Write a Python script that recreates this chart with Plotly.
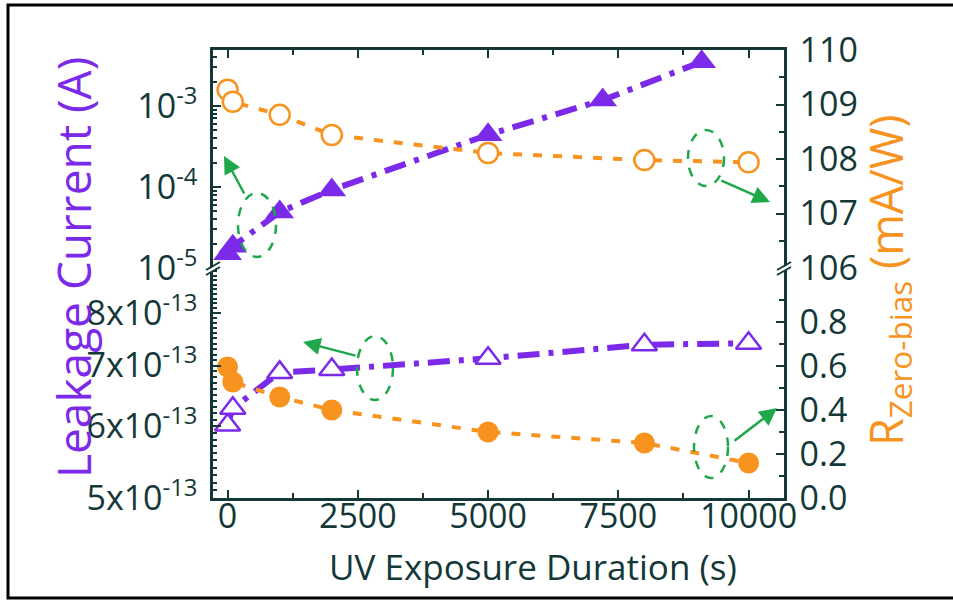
import plotly.graph_objects as go

# ---------------- data ----------------
# top panel (left log axis: leakage current, right axis: R in mA/W)
t_top_leak = [0, 100, 1000, 2000, 5000, 7200, 9100]
leak_top = [1.5e-5, 1.85e-5, 4.9e-5, 9.2e-5, 4.4e-4, 1.18e-3, 3.5e-3]

t_top_r = [0, 100, 1000, 2000, 5000, 8000, 10000]
r_top = [109.27, 109.05, 108.81, 108.44, 108.11, 107.98, 107.94]

# bottom panel (left log axis: leakage current, right axis: R)
t_bot_leak = [0, 100, 1000, 2000, 5000, 8000, 10000]
leak_bot = [6.02e-13, 6.28e-13, 6.88e-13, 6.93e-13, 7.13e-13, 7.38e-13, 7.41e-13]

t_bot_r = [0, 100, 1000, 2000, 5000, 8000, 10000]
r_bot = [0.595, 0.527, 0.459, 0.40, 0.30, 0.25, 0.159]

x_ticks = [0, 2500, 5000, 7500, 10000]
x_text = ["0", "2500", "5000", "7500", "10000"]
top_left_ticks = [1e-5, 1e-4, 1e-3]
top_left_text = ["10<sup>-5</sup>", "10<sup>-4</sup>", "10<sup>-3</sup>"]
bot_left_ticks = [5e-13, 6e-13, 7e-13, 8e-13]
bot_left_text = ["5x10<sup>-13</sup>", "6x10<sup>-13</sup>", "7x10<sup>-13</sup>", "8x10<sup>-13</sup>"]
top_right_ticks = [106, 107, 108, 109, 110]
bot_right_ticks = [0.0, 0.2, 0.4, 0.6, 0.8]
bot_right_text = ["0.0", "0.2", "0.4", "0.6", "0.8"]

# ---------------- style ----------------
PURPLE = "#7B2AEA"
ORANGE = "#F7931E"
GREEN = "#1FA84A"
DARK = "#143838"
FONT = "Open Sans"

W, H = 953, 600
L, R, T, B = 213, 784, 50, 498
BREAK = 268


def px(x):
    return (x - L) / (R - L)


def py(y):
    return (B - y) / (B - T)


split = py(BREAK)

fig = go.Figure()

# bottom panel traces
fig.add_trace(go.Scatter(
    x=t_bot_r, y=r_bot, xaxis="x", yaxis="y2", mode="lines+markers",
    line=dict(color=ORANGE, width=4, dash="9px,11px"),
    marker=dict(symbol="circle", size=21, color=ORANGE),
    showlegend=False))
fig.add_trace(go.Scatter(
    x=t_bot_leak, y=leak_bot, xaxis="x", yaxis="y", mode="lines+markers",
    line=dict(color=PURPLE, width=6, dash="22px,9px,5px,9px"),
    marker=dict(symbol="triangle-up", size=22, color="white",
                line=dict(color=PURPLE, width=2.5)),
    showlegend=False))

# top panel traces
fig.add_trace(go.Scatter(
    x=t_top_r, y=r_top, xaxis="x2", yaxis="y4", mode="lines+markers",
    line=dict(color=ORANGE, width=4, dash="9px,11px"),
    marker=dict(symbol="circle", size=20, color="white",
                line=dict(color=ORANGE, width=2.5)),
    showlegend=False))
fig.add_trace(go.Scatter(
    x=t_top_leak, y=leak_top, xaxis="x2", yaxis="y3", mode="lines+markers",
    line=dict(color=PURPLE, width=6, dash="22px,9px,5px,9px"),
    marker=dict(symbol="triangle-up", size=25, color=PURPLE),
    showlegend=False))

axis_common = dict(showline=True, linewidth=2.5, linecolor=DARK, ticks="inside",
                   ticklen=8, tickwidth=2, tickcolor=DARK, showgrid=False,
                   zeroline=False, tickfont=dict(family=FONT, size=34, color=DARK))

xr = [-280, 10680]
x_minor = dict(tickvals=[1250, 3750, 6250, 8750], ticks="inside", ticklen=5,
               tickwidth=1.5, tickcolor=DARK)

top_left_minor = [k * 10 ** n for n in (-5, -4, -3) for k in range(2, 10) if k * 10 ** n < 4.8e-3]
bot_left_minor = [round(v, 1) * 1e-13 for v in [5 + 0.1 * i for i in range(1, 40)]
                  if abs(v - round(v)) > 1e-6]

fig.update_layout(
    width=W, height=H,
    margin=dict(l=L, r=W - R, t=T, b=H - B),
    paper_bgcolor="white", plot_bgcolor="white",
    font=dict(family=FONT, color=DARK),
    xaxis=dict(domain=[0, 1], anchor="y", range=xr, tickvals=x_ticks, ticktext=x_text,
               minor=x_minor, ticklabelstandoff=-14, **axis_common),
    xaxis2=dict(domain=[0, 1], anchor="y3", side="top", range=xr, tickvals=x_ticks,
                showticklabels=False, minor=x_minor, matches="x", **axis_common),
    yaxis=dict(domain=[0, split], anchor="x", type="log",
               range=[-12.30103, -12.0472], tickvals=bot_left_ticks, ticktext=bot_left_text,
               minor=dict(tickvals=bot_left_minor, ticks="inside", ticklen=4,
                          tickwidth=1.5, tickcolor=DARK),
               ticklabelstandoff=6, **axis_common),
    yaxis2=dict(domain=[0, split], anchor="x", overlaying="y", side="right",
                range=[0, 1.045], tickvals=bot_right_ticks, ticktext=bot_right_text,
                minor=dict(tickvals=[0.1, 0.3, 0.5, 0.7, 0.9], ticks="inside", ticklen=5,
                           tickwidth=1.5, tickcolor=DARK),
                ticklabelstandoff=6, **axis_common),
    yaxis3=dict(domain=[split, 1], anchor="x2", type="log",
                range=[-5, -2.31], tickvals=top_left_ticks, ticktext=top_left_text,
                minor=dict(tickvals=top_left_minor, ticks="inside", ticklen=4,
                           tickwidth=1.5, tickcolor=DARK),
                ticklabelstandoff=6, **axis_common),
    yaxis4=dict(domain=[split, 1], anchor="x2", overlaying="y3", side="right",
                range=[106, 110], tickvals=top_right_ticks,
                minor=dict(tickvals=[106.5, 107.5, 108.5, 109.5], ticks="inside", ticklen=5,
                           tickwidth=1.5, tickcolor=DARK),
                ticklabelstandoff=6, **axis_common),
)

shapes = []
annotations = []

# outer frame
shapes.append(dict(type="rect", xref="paper", yref="paper",
                   x0=px(8), x1=px(975), y0=py(598), y1=py(5),
                   line=dict(color="black", width=3), layer="below"))

# axis break marks
for ax_x in (L, R):
    shapes.append(dict(type="path", xref="paper", yref="paper",
                       path=f"M {px(ax_x-7)},{py(BREAK+3)} L {px(ax_x+7)},{py(BREAK-5)} "
                            f"L {px(ax_x+7)},{py(BREAK-1)} L {px(ax_x-7)},{py(BREAK+7)} Z",
                       fillcolor="white", line=dict(width=0), layer="above"))
    for off in (0, 5):
        shapes.append(dict(type="line", xref="paper", yref="paper",
                           x0=px(ax_x - 7), y0=py(BREAK + 2 + off),
                           x1=px(ax_x + 7), y1=py(BREAK - 6 + off),
                           line=dict(color=DARK, width=2), layer="above"))

# green dashed ellipses (pixel centre, radii)
ellipses = [(257, 225, 19, 32), (706, 158, 18, 28), (375, 368, 18, 32), (711, 447, 17, 31)]
for cx, cy, rx, ry in ellipses:
    shapes.append(dict(type="circle", xref="paper", yref="paper",
                       x0=px(cx - rx), x1=px(cx + rx), y0=py(cy + ry), y1=py(cy - ry),
                       line=dict(color=GREEN, width=2.5, dash="9px,9px")))

# green arrows: (tail px, head px)
arrows = [((245, 195), (224, 156)), ((720, 180), (770, 202)),
          ((357, 356), (303, 342)), ((733, 442), (777, 408))]
for (tx, ty), (hx, hy) in arrows:
    annotations.append(dict(xref="paper", yref="paper", x=px(hx), y=py(hy),
                            ax=tx - hx, ay=ty - hy, text="", showarrow=True,
                            arrowhead=2, arrowsize=1.4, arrowwidth=2.5, arrowcolor=GREEN,
                            standoff=0, startstandoff=0))

# axis titles
annotations.append(dict(xref="paper", yref="paper", x=px(533), y=py(566),
                        xanchor="center", yanchor="middle",
                        text="UV Exposure Duration (s)", showarrow=False,
                        font=dict(family=FONT, size=35, color=DARK)))
annotations.append(dict(xref="paper", yref="paper", x=px(73), y=py(268),
                        xanchor="center", yanchor="middle",
                        text="Leakage Current (A)", textangle=-90, showarrow=False,
                        font=dict(family=FONT, size=46, color=PURPLE)))
annotations.append(dict(xref="paper", yref="paper", x=px(888), y=py(280),
                        xanchor="center", yanchor="middle",
                        text="R<sub>Zero-bias</sub> (mA/W)", textangle=-90, showarrow=False,
                        font=dict(family=FONT, size=45, color=ORANGE)))

fig.update_layout(shapes=shapes, annotations=annotations)

fig.write_html("out.html")
